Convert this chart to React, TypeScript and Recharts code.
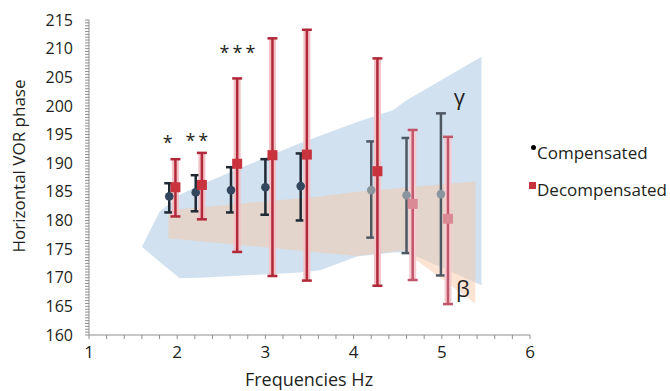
import { Area, ComposedChart, ErrorBar, Label, Scatter, XAxis, YAxis } from 'recharts';

// stimulation frequencies (Hz) and phase (deg)
const COMP_FREQ = [1.91, 2.21, 2.61, 3.0, 3.4, 4.2, 4.6, 4.99];
const COMP_MEAN = [184.2, 184.9, 185.3, 185.8, 186.0, 185.3, 184.4, 184.6];
const COMP_HIGH = [186.5, 187.9, 189.3, 190.7, 191.7, 193.8, 194.4, 198.7];
const COMP_LOW = [181.4, 181.6, 181.4, 181.0, 180.0, 177.0, 174.3, 170.4];

const DECOMP_FREQ = [1.98, 2.28, 2.68, 3.08, 3.47, 4.27, 4.67, 5.07];
const DECOMP_MEAN = [185.8, 186.2, 189.9, 191.4, 191.5, 188.6, 182.9, 180.3];
const DECOMP_HIGH = [190.7, 191.8, 204.8, 211.8, 213.3, 208.3, 195.8, 194.6];
const DECOMP_LOW = [180.7, 180.2, 174.5, 170.3, 169.5, 168.6, 169.6, 165.4];

// shaded bands (gamma = blue, beta = beige)
const GAMMA_FREQ = [1.6, 1.8, 2.03, 2.26, 3.39, 3.62, 4.04, 4.45, 4.6, 5.45];
const GAMMA_LOW = [175.4, 172.8, 169.9, 170.0, 170.9, 171.3, 173.7, 174.4, 174.5, 168.7];
const GAMMA_HIGH = [175.4, 181.5, 184.5, 186.2, 193.5, 194.8, 197.2, 199.3, 201.0, 208.6];

const BETA_FREQ = [1.9, 3.62, 4.04, 4.56, 5.38];
const BETA_LOW = [176.9, 174.4, 173.8, 174.8, 165.5];
const BETA_HIGH = [181.8, 184.2, 185.0, 185.7, 186.8];

const NOTES = [
  { x: 1.91, y: 194.3, text: '*' },
  { x: 2.24, y: 194.5, text: '**' },
  { x: 2.7, y: 209.9, text: '***' },
];
const GREEK = [
  { x: 5.2, y: 201.3, text: 'γ' },
  { x: 5.24, y: 167.9, text: 'β' },
];

const FREQ_TICKS = [1, 2, 3, 4, 5, 6];
const PHASE_TICKS = [160, 165, 170, 175, 180, 185, 190, 195, 200, 205, 210, 215];

const FONT = '"Open Sans", sans-serif';
const INK = '#231f20';
const AXIS = '#8f8f8f';

const xTicks = Array.from({ length: 26 }, (_, i) => Math.round((1 + i * 0.2) * 10) / 10);
const yTicks = Array.from({ length: 111 }, (_, i) => 160 + i * 0.5);

function pointRows(freq: number[], mean: number[], low: number[], high: number[], from: number, to: number) {
  return freq.slice(from, to).map((x, k) => {
    const i = k + from;
    return { x, y: mean[i], err: [mean[i] - low[i], high[i] - mean[i]] };
  });
}

const bandX = Array.from(new Set([...GAMMA_FREQ, ...BETA_FREQ])).sort((a, b) => a - b);
const bandRows = bandX.map((x) => {
  const g = GAMMA_FREQ.indexOf(x);
  const b = BETA_FREQ.indexOf(x);
  return {
    x,
    gamma: g >= 0 ? [GAMMA_LOW[g], GAMMA_HIGH[g]] : undefined,
    beta: b >= 0 ? [BETA_LOW[b], BETA_HIGH[b]] : undefined,
  };
});

const compA = pointRows(COMP_FREQ, COMP_MEAN, COMP_LOW, COMP_HIGH, 0, 5);
const compB = pointRows(COMP_FREQ, COMP_MEAN, COMP_LOW, COMP_HIGH, 5, 8);
const decompA = pointRows(DECOMP_FREQ, DECOMP_MEAN, DECOMP_LOW, DECOMP_HIGH, 0, 6);
const decompB = pointRows(DECOMP_FREQ, DECOMP_MEAN, DECOMP_LOW, DECOMP_HIGH, 6, 8);

const circle = (fill: string) => (p: any) => <circle cx={p.cx} cy={p.cy} r={4.3} fill={fill} />;
const square = (fill: string) => (p: any) => (
  <rect x={p.cx - 5} y={p.cy - 5} width={10} height={10} fill={fill} />
);
const note = (size: number, shift: number, spacing: number) => (p: any) => (
  <text
    x={p.cx}
    y={p.cy + shift}
    textAnchor="middle"
    fontFamily={FONT}
    fontSize={size}
    letterSpacing={spacing}
    fill={INK}
  >
    {p.payload.text}
  </text>
);

export default function App() {
  return (
    <div style={{ position: 'absolute', left: 0, top: 0, width: 670, height: 391, background: '#fff' }}>
      <ComposedChart width={670} height={391} data={bandRows} margin={{ top: 20, right: 140, bottom: 0, left: 0 }}>
        <XAxis
          dataKey="x"
          type="number"
          domain={[1, 6]}
          ticks={xTicks}
          interval={0}
          allowDataOverflow
          height={56}
          stroke={AXIS}
          tickSize={4}
          tickMargin={7}
          tick={{ fill: INK, fontSize: 17, fontFamily: FONT }}
          tickFormatter={(v: number) => (FREQ_TICKS.includes(v) ? String(v) : '')}
        >
          <Label
            content={() => (
              <text x={309} y={386} textAnchor="middle" fontFamily={FONT} fontSize={18} fill={INK}>
                Frequencies Hz
              </text>
            )}
          />
        </XAxis>
        <YAxis
          type="number"
          domain={[160, 215]}
          ticks={yTicks}
          interval={0}
          width={89}
          stroke={AXIS}
          tickSize={4}
          tickMargin={12}
          tick={{ fill: INK, fontSize: 16, fontFamily: FONT }}
          tickFormatter={(v: number) => (PHASE_TICKS.includes(v) ? String(v) : '')}
        >
          <Label
            content={() => (
              <text
                x={18}
                y={166}
                transform="rotate(-90, 18, 166)"
                textAnchor="middle"
                dominantBaseline="central"
                fontFamily={FONT}
                fontSize={17}
                fill={INK}
              >
                Horizontal VOR phase
              </text>
            )}
          />
        </YAxis>

        <Area
          dataKey="gamma"
          type="linear"
          connectNulls
          stroke="none"
          fill="#c9dcec"
          fillOpacity={0.85}
          isAnimationActive={false}
        />
        <Area
          dataKey="beta"
          type="linear"
          connectNulls
          stroke="none"
          fill="#f7c9a9"
          fillOpacity={0.5}
          isAnimationActive={false}
        />

        <Scatter data={compA} dataKey="y" shape={circle('#34465e')} isAnimationActive={false}>
          <ErrorBar dataKey="err" direction="y" width={5} stroke="#1f2833" strokeWidth={2.5} />
        </Scatter>
        <Scatter data={compB} dataKey="y" shape={circle('#8a959d')} isAnimationActive={false}>
          <ErrorBar dataKey="err" direction="y" width={5} stroke="#4e5863" strokeWidth={2.5} />
        </Scatter>
        <Scatter data={decompA} dataKey="y" shape={square('#c8333e')} isAnimationActive={false}>
          <ErrorBar dataKey="err" direction="y" width={0} stroke="#f4c2c6" strokeWidth={7} />
          <ErrorBar dataKey="err" direction="y" width={5} stroke="#b0283a" strokeWidth={2.5} />
        </Scatter>
        <Scatter data={decompB} dataKey="y" shape={square('#d98a94')} isAnimationActive={false}>
          <ErrorBar dataKey="err" direction="y" width={0} stroke="#f7ccd0" strokeWidth={7} />
          <ErrorBar dataKey="err" direction="y" width={5} stroke="#c0566a" strokeWidth={2.5} />
        </Scatter>

        <Scatter data={NOTES} dataKey="y" shape={note(18, 10, 3)} isAnimationActive={false} />
        <Scatter data={GREEK} dataKey="y" shape={note(22, 7, 0)} isAnimationActive={false} />
      </ComposedChart>

      <div style={{ position: 'absolute', left: 529, top: 134, fontFamily: FONT, fontSize: 17, color: INK, lineHeight: '37px' }}>
        <div style={{ position: 'relative', paddingLeft: 8 }}>
          <span style={{ position: 'absolute', left: 2, top: 11, width: 5, height: 5, borderRadius: 3, background: '#000' }} />
          Compensated
        </div>
        <div style={{ position: 'relative', paddingLeft: 8 }}>
          <span style={{ position: 'absolute', left: 0, top: 11, width: 7, height: 7, background: '#c8333e' }} />
          Decompensated
        </div>
      </div>
    </div>
  );
}
